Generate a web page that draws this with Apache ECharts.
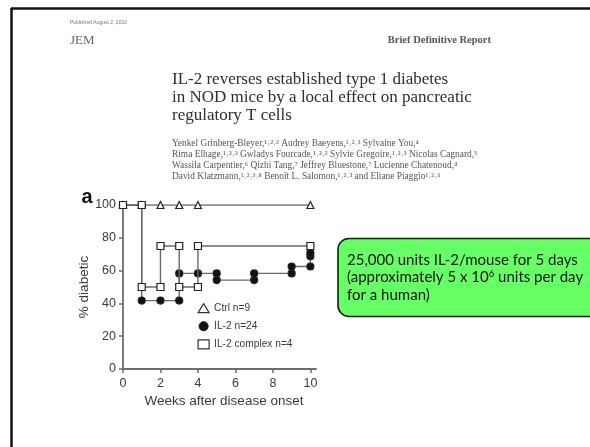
<!DOCTYPE html>
<html><head><meta charset="utf-8">
<script src="https://cdn.jsdelivr.net/npm/echarts@6/dist/echarts.min.js"></script>
<style>html,body{margin:0;padding:0;background:#fff}#c{width:590px;height:447px}</style>
</head><body><div id="c"></div>
<script>
// ---- data ----
const xTicks = [0, 2, 4, 6, 8, 10];
const yTicks = [0, 20, 40, 60, 80, 100];
const seriesNames = ['Ctrl n=9', 'IL-2 n=24', 'IL-2 complex n=4'];
const ctrlWeeks = [0, 1, 2, 3, 4, 10];
const ctrlPct   = [100, 100, 100, 100, 100, 100];
const il2Weeks  = [0, 1, 1, 2, 3, 3, 4, 5, 5, 7, 7, 9, 9, 10, 10, 10];
const il2Pct    = [100, 100, 41.7, 41.7, 41.7, 58.3, 58.3, 58.3, 54.2, 54.2, 58.3, 58.3, 62.5, 62.5, 68.8, 70.8];
const cplxWeeks = [0, 1, 1, 2, 2, 3, 3, 4, 4, 10];
const cplxPct   = [100, 100, 50, 50, 75, 75, 50, 50, 75, 75];
const titleLines = ['IL-2 reverses established type 1 diabetes', 'in NOD mice by a local effect on pancreatic', 'regulatory T cells'];
const authorLines = [
  'Yenkel Grinberg-Bleyer,\u00b9\u02d2\u00b2\u02d2\u00b3 Audrey Baeyens,\u00b9\u02d2\u00b2\u02d2\u00b3 Sylvaine You,\u2074',
  'Rima Elhage,\u00b9\u02d2\u00b2\u02d2\u00b3 Gwladys Fourcade,\u00b9\u02d2\u00b2\u02d2\u00b3 Sylvie Gregoire,\u00b9\u02d2\u00b2\u02d2\u00b3 Nicolas Cagnard,\u2075',
  'Wassila Carpentier,\u2076 Qizhi Tang,\u2077 Jeffrey Bluestone,\u2077 Lucienne Chatenoud,\u2074',
  'David Klatzmann,\u00b9\u02d2\u00b2\u02d2\u00b3\u02d2\u2078 Beno\u00eet L. Salomon,\u00b9\u02d2\u00b2\u02d2\u00b3 and Eliane Piaggio\u00b9\u02d2\u00b2\u02d2\u00b3'
];

const zip = (xs, ys) => xs.map((x, i) => [x, ys[i]]);
const chart = echarts.init(document.getElementById('c'), null, {renderer: 'canvas'});
const lineCol = '#6a6a6a';
const axisCol = '#6e6e6e';
const labCol = '#3a3a3a';
const sans = '"Liberation Sans", Arial, sans-serif';
const serif = '"Liberation Serif", "DejaVu Serif", serif';

const graphics = [
  // slide frame (top & left)
  {type: 'line', shape: {x1: 11, y1: 8.5, x2: 590, y2: 8.5}, style: {stroke: '#111', lineWidth: 2.5}},
  {type: 'line', shape: {x1: 11.5, y1: 8, x2: 11.5, y2: 447}, style: {stroke: '#111', lineWidth: 2.5}},
  {type: 'text', x: 70, y: 23, style: {text: 'Published August 2, 2010', font: '5px ' + sans, fill: '#777', textVerticalAlign: 'middle'}},
  {type: 'text', x: 70, y: 41, style: {text: 'JEM', font: '13px ' + serif, fill: '#666', textVerticalAlign: 'middle'}},
  {type: 'text', x: 491, y: 40, style: {text: 'Brief Definitive Report', font: 'bold 10.5px ' + serif, fill: '#555', textAlign: 'right', textVerticalAlign: 'middle'}},
  {type: 'text', x: 87, y: 197, style: {text: 'a', font: 'bold 20px ' + sans, fill: '#111', textAlign: 'center', textVerticalAlign: 'middle'}},
  // green callout
  {type: 'rect', shape: {x: 338, y: 238.5, width: 270, height: 78, r: 11}, style: {fill: '#66ff66', stroke: '#1a1a1a', lineWidth: 1.6}},
  {type: 'text', x: 347, y: 277.5, style: {
    text: '{n|25,000 units IL-2/mouse for 5 days}\n{n|(approximately 5 x 10}{s|6}{n| units per day}\n{n|for a human)}',
    fill: '#111', textVerticalAlign: 'middle',
    rich: {n: {font: '15px Lato, "Open Sans", sans-serif', fill: '#111', lineHeight: 17.5}, s: {font: '9.5px Lato, sans-serif', fill: '#111', lineHeight: 17.5, padding: [0, 0, 7, 0]}}
  }}
];
titleLines.forEach((t, i) => graphics.push({type: 'text', x: 172, y: 79.5 + i * 17.8, style: {text: t, font: '17px ' + serif, fill: '#2e2e2e', textVerticalAlign: 'middle'}}));
authorLines.forEach((t, i) => graphics.push({type: 'text', x: 172, y: 143.5 + i * 11, style: {text: t, font: '9.4px ' + serif, fill: '#555', textVerticalAlign: 'middle'}}));

const mk = (name, weeks, pct, symbol, fill, z) => ({
  name, type: 'line', data: zip(weeks, pct), symbol, symbolSize: 7, z,
  lineStyle: {color: lineCol, width: 1.4},
  itemStyle: {color: fill, borderColor: '#222', borderWidth: 1.2},
  emphasis: {disabled: true}, animation: false
});

chart.setOption({
  backgroundColor: '#fff',
  animation: false,
  graphic: graphics,
  grid: {left: 123, right: 274, top: 205, bottom: 78, containLabel: false},
  legend: {
    orient: 'vertical', left: 197.5, top: 303, padding: 0, itemWidth: 11, itemHeight: 9, itemGap: 8,
    textStyle: {fontFamily: sans, fontSize: 10.2, color: labCol},
    data: [
      {name: seriesNames[0], icon: 'triangle', itemStyle: {color: '#fff', borderColor: '#333', borderWidth: 1.2}},
      {name: seriesNames[1], icon: 'circle', itemStyle: {color: '#111', borderColor: '#111', borderWidth: 1}},
      {name: seriesNames[2], icon: 'rect', itemStyle: {color: '#fff', borderColor: '#333', borderWidth: 1.2}}
    ],
    selectedMode: false
  },
  xAxis: {
    type: 'value', min: 0, max: 10.3, interval: 2,
    name: 'Weeks after disease onset', nameLocation: 'middle', nameGap: 25,
    nameTextStyle: {fontFamily: sans, fontSize: 13.5, color: labCol, padding: [0, 0, 0, 9]},
    axisLine: {show: true, onZero: false, lineStyle: {color: axisCol, width: 1.8}},
    axisTick: {show: true, length: 4, lineStyle: {color: axisCol, width: 1.5}, customValues: xTicks},
    axisLabel: {customValues: xTicks, margin: 8, fontFamily: sans, fontSize: 12.5, color: labCol},
    splitLine: {show: false}
  },
  yAxis: {
    type: 'value', min: 0, max: 100, interval: 20,
    name: '% diabetic', nameLocation: 'middle', nameGap: 29, nameRotate: 90,
    nameTextStyle: {fontFamily: sans, fontSize: 13.5, color: labCol},
    axisLine: {show: true, lineStyle: {color: axisCol, width: 1.8}},
    axisTick: {show: true, length: 4, lineStyle: {color: axisCol, width: 1.5}, customValues: yTicks},
    axisLabel: {customValues: yTicks, margin: 7, fontFamily: sans, fontSize: 12.5, color: labCol},
    splitLine: {show: false}
  },
  series: [
    mk(seriesNames[0], ctrlWeeks, ctrlPct, 'triangle', '#fff', 2),
    mk(seriesNames[1], il2Weeks, il2Pct, 'circle', '#111', 3),
    mk(seriesNames[2], cplxWeeks, cplxPct, 'rect', '#fff', 4)
  ]
});
</script></body></html>
